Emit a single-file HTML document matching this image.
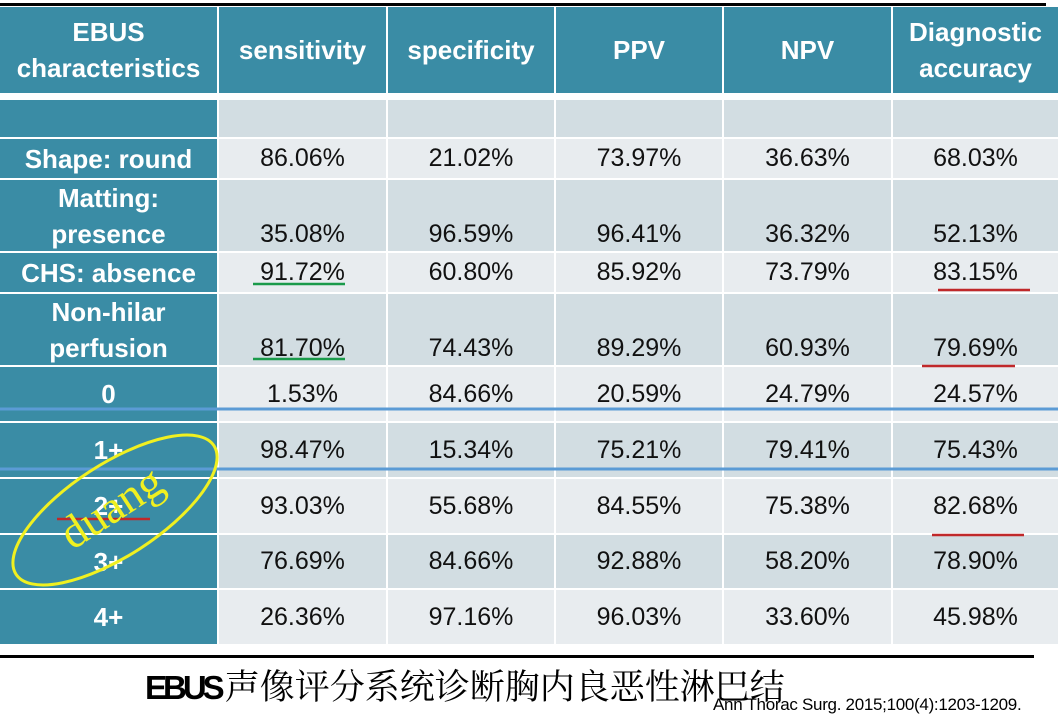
<!DOCTYPE html>
<html><head><meta charset="utf-8"><style>
body{margin:0;width:1058px;height:718px;background:#fff;position:relative;overflow:hidden;font-family:"Liberation Sans",sans-serif}
.c{position:absolute;display:flex;align-items:center;justify-content:center;text-align:center;box-sizing:border-box}
.h{background:#3a8ca5;color:#fff;font-weight:bold;font-size:26px;line-height:36px}
.k{background:#3a8ca5;color:#fff;font-weight:bold;font-size:26px;line-height:36px}
.d{background:#d2dde2;color:#111;font-size:25px}
.l{background:#e8ecef;color:#111;font-size:25px}
.b{align-items:flex-end;padding-bottom:2px}
</style></head><body>
<div style="position:absolute;left:0;top:3px;width:1046px;height:3px;background:#000"></div>
<div id="t"></div>
<div style="position:absolute;left:0;top:655px;width:1034px;height:3px;background:#000"></div>
<div style="position:absolute;left:145px;top:660px;font-size:35px;font-family:'Noto Serif CJK SC','Liberation Serif',serif;color:#000;white-space:nowrap"><span style="font-family:'Liberation Sans',sans-serif;font-weight:bold;letter-spacing:-4px;font-size:33px">EBUS</span><span style="margin-left:4px">声像评分系统诊断胸内良恶性淋巴结</span></div>
<div style="position:absolute;left:713px;top:695px;font-size:17px;color:#000;white-space:nowrap;letter-spacing:-0.3px">Ann Thorac Surg. 2015;100(4):1203-1209.</div>
<script>
var X=[0,219,388,556,724,893],W=[217,167,166,166,167,165];
var rows=[
[7,86,'h',['EBUS<br>characteristics','sensitivity','specificity','PPV','NPV','Diagnostic<br>accuracy']],
[100,37,'d',['','','','','','']],
[139,39,'l',['Shape: round','86.06%','21.02%','73.97%','36.63%','68.03%']],
[180,71,'d',['Matting:<br>presence','35.08%','96.59%','96.41%','36.32%','52.13%'],1],
[253,39,'l',['CHS: absence','91.72%','60.80%','85.92%','73.79%','83.15%']],
[294,71,'d',['Non-hilar<br>perfusion','81.70%','74.43%','89.29%','60.93%','79.69%'],1],
[367,54,'l',['0','1.53%','84.66%','20.59%','24.79%','24.57%']],
[423,54,'d',['1+','98.47%','15.34%','75.21%','79.41%','75.43%']],
[479,54,'l',['2+','93.03%','55.68%','84.55%','75.38%','82.68%']],
[535,53,'d',['3+','76.69%','84.66%','92.88%','58.20%','78.90%']],
[590,54,'l',['4+','26.36%','97.16%','96.03%','33.60%','45.98%']]];
var s='';
rows.forEach(function(r){for(var i=0;i<6;i++){var cls=r[2]=='h'?'h':(i==0?'k':r[2]+(r[4]?' b':''));
s+='<div class="c '+cls+'" style="left:'+X[i]+'px;top:'+r[0]+'px;width:'+W[i]+'px;height:'+r[1]+'px">'+r[3][i]+'</div>';}});
document.getElementById('t').innerHTML=s;
</script>
<svg width="1058" height="718" style="position:absolute;left:0;top:0">
<line x1="0" y1="409" x2="1058" y2="409" stroke="#5b9bd5" stroke-width="3"/>
<line x1="0" y1="469" x2="1058" y2="469" stroke="#5b9bd5" stroke-width="3"/>
<line x1="253" y1="284" x2="345" y2="284" stroke="#1a9a4a" stroke-width="2.5"/>
<line x1="253" y1="359" x2="345" y2="359" stroke="#1a9a4a" stroke-width="2.5"/>
<line x1="938" y1="290" x2="1030" y2="290" stroke="#c0282a" stroke-width="2.5"/>
<line x1="922" y1="366" x2="1015" y2="366" stroke="#c0282a" stroke-width="2.5"/>
<line x1="932" y1="535" x2="1024" y2="535" stroke="#c0282a" stroke-width="2.5"/>
<line x1="57" y1="519" x2="150" y2="519" stroke="#c0282a" stroke-width="2.5"/>
<ellipse cx="115" cy="510" rx="118" ry="46" transform="rotate(-33 115 510)" fill="none" stroke="#f0f020" stroke-width="3"/>
<text x="113" y="522" text-anchor="middle" font-family="Liberation Serif,serif" font-size="46" fill="#f0f020" transform="rotate(-33 113 510)">duang</text>
</svg>
</body></html>
